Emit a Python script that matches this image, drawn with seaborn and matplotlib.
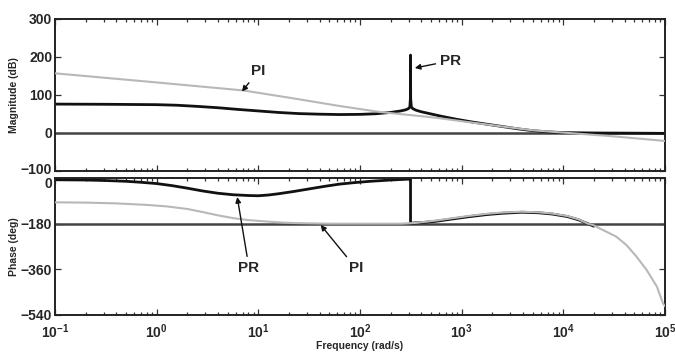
import numpy as np
import pandas as pd
import matplotlib
matplotlib.use("Agg")
import matplotlib.pyplot as plt
import matplotlib.transforms as mtransforms
import seaborn as sns

# ---- data (frequencies as log10(rad/s)) ----
pr_mag_logf = [-1, -0.5, 0, 0.2, 0.4, 0.6, 0.8, 1.0, 1.2, 1.4, 1.6, 1.8, 2.0, 2.15, 2.3, 2.4,
               2.45, 2.475, 2.49, 2.4955, 2.4969, 2.4983, 2.505, 2.52, 2.55, 2.6, 2.7, 2.8,
               2.95, 3.1, 3.25, 3.4, 3.55, 3.7, 3.85, 4.0, 4.3, 4.7, 5.0]
pr_mag_db = [76, 75.5, 74.5, 73, 70, 66.5, 62, 58, 54, 51, 49.5, 48.5, 49, 50.5, 54, 58,
             61, 64, 68, 90, 205, 90, 68, 64, 60, 56, 50, 44,
             36, 29, 23, 17, 11, 6, 3, 1, 0, -0.5, -1]

pi_mag_logf = [-1, 0, 0.85, 1.3, 1.8, 2.0, 2.2, 2.5, 2.75, 3.0, 3.2, 3.4, 3.7, 4.05, 4.5, 5.0]
pi_mag_db = [157, 133, 112, 93, 71, 63, 55, 47, 40, 31, 24, 17, 7, 0, -9, -21]

pr_ph_logf = [-1, -0.7, -0.5, -0.3, -0.15, 0, 0.15, 0.3, 0.45, 0.6, 0.75, 0.9, 1.0, 1.1, 1.2,
              1.35, 1.5, 1.65, 1.8, 1.95, 2.1, 2.3, 2.4969,
              2.4969, 2.6, 2.74, 2.9, 3.06, 3.25, 3.4, 3.59, 3.75, 3.89, 4.04, 4.15, 4.24, 4.3]
pr_ph_deg = [-7, -8, -10, -13, -17, -22, -30, -40, -51, -60, -66, -69, -70, -67, -62,
             -53, -43, -33, -24, -18, -13, -8, -4,
             -178, -176, -171, -162, -153, -144, -139, -135, -137, -142, -152, -165, -180, -190]

pi_ph_logf = [-1, -0.7, -0.4, -0.1, 0.1, 0.3, 0.45, 0.6, 0.75, 0.9, 1.1, 1.25, 1.4, 1.7, 2.4,
              2.55, 2.74, 2.9, 3.06, 3.25, 3.4, 3.59, 3.75, 3.89, 4.04, 4.15, 4.24, 4.29, 4.42,
              4.52, 4.62, 4.72, 4.82, 4.92, 4.98, 5.0]
pi_ph_deg = [-96, -97, -100, -106, -112, -122, -134, -147, -158, -166, -172, -176, -178, -180, -180,
             -177, -168, -159, -150, -141, -136, -133, -135, -140, -150, -163, -180, -185, -211,
             -231, -264, -310, -363, -428, -494, -505]

mag_ref = 0
ph_ref = -180
mag_ticks = [-100, 0, 100, 200, 300]
ph_ticks = [-540, -360, -180, 0]
x_ticks = [1e-1, 1e0, 1e1, 1e2, 1e3, 1e4, 1e5]
x_tick_labels = [r"$\mathbf{10^{-1}}$", r"$\mathbf{10^{0}}$", r"$\mathbf{10^{1}}$",
                 r"$\mathbf{10^{2}}$", r"$\mathbf{10^{3}}$", r"$\mathbf{10^{4}}$",
                 r"$\mathbf{10^{5}}$"]

sns.set_style("ticks")
FONT = "Liberation Sans"
plt.rcParams["font.family"] = [FONT, "DejaVu Sans"]
plt.rcParams["font.weight"] = "bold"
plt.rcParams["mathtext.fontset"] = "custom"
plt.rcParams["mathtext.bf"] = FONT + ":bold"
plt.rcParams["mathtext.rm"] = FONT + ":bold"
plt.rcParams["xtick.direction"] = "in"
plt.rcParams["ytick.direction"] = "in"


def frame(logf, vals):
    return pd.DataFrame({"f": np.power(10.0, logf), "v": vals})


df_pr_mag = frame(pr_mag_logf, pr_mag_db)
df_pi_mag = frame(pi_mag_logf, pi_mag_db)
df_pr_ph = frame(pr_ph_logf, pr_ph_deg)
df_pi_ph = frame(pi_ph_logf, pi_ph_deg)

fig = plt.figure(figsize=(6.75, 3.56), dpi=100)
ax1 = fig.add_axes([0.0815, 0.5197, 0.9037, 0.427])
ax2 = fig.add_axes([0.0815, 0.1152, 0.9037, 0.3848])

black = "#111111"
gray = "#b8b8b8"

for ax, dpr, dpi_, ref in [(ax1, df_pr_mag, df_pi_mag, mag_ref), (ax2, df_pr_ph, df_pi_ph, ph_ref)]:
    ax.set_xscale("log")
    ax.axhline(ref, color="#444444", lw=1.8, zorder=1)
    sns.lineplot(data=dpr, x="f", y="v", ax=ax, color=black, lw=2.0,
                 estimator=None, sort=False, zorder=2)
    sns.lineplot(data=dpi_, x="f", y="v", ax=ax, color=gray, lw=1.5,
                 estimator=None, sort=False, zorder=3)
    ax.set_xlim(1e-1, 1e5)
    ax.tick_params(which="both", top=True, right=True, direction="in", labelsize=10,
                   width=0.9, color="#333333", pad=2)
    ax.tick_params(which="major", length=4)
    ax.tick_params(which="minor", length=2.5)
    for s in ax.spines.values():
        s.set_linewidth(1.4)
        s.set_color("#222222")
    ax.set_xticks(x_ticks)

ax1.set_ylim(-100, 300)
ax1.set_yticks(mag_ticks)
ax1.set_xticklabels([])
ax1.set_xlabel("")
ax1.set_ylabel("Magnitude (dB)", fontsize=7.5, fontweight="bold", labelpad=1)

ax2.set_ylim(-540, 0)
ax2.set_yticks(ph_ticks)
ax2.set_xticklabels(x_tick_labels)
ax2.tick_params(axis="x", which="major", pad=5)
ax2.set_xlabel("Frequency (rad/s)", fontsize=7.5, fontweight="bold", labelpad=0)
ax2.set_ylabel("Phase (deg)", fontsize=7.5, fontweight="bold", labelpad=1)
for lbl in ax1.get_yticklabels() + ax2.get_yticklabels():
    lbl.set_fontweight("bold")

# the top "0" of the phase axis sits slightly below the axis edge, as in the reference
zero_lbl = ax2.get_yticklabels()[-1]
zero_lbl.set_transform(zero_lbl.get_transform() +
                       mtransforms.ScaledTranslation(0, -0.05, fig.dpi_scale_trans))
top_lbl = ax1.get_yticklabels()[0]
top_lbl.set_transform(top_lbl.get_transform() +
                      mtransforms.ScaledTranslation(0, 0.02, fig.dpi_scale_trans))

aprops = dict(arrowstyle="-|>", color=black, lw=1.0, mutation_scale=8, shrinkA=1, shrinkB=0)
tkw = dict(fontsize=11, fontweight="bold", ha="center", va="center")
ax1.annotate("PI", xy=(6.9, 109), xytext=(9.9, 162), arrowprops=aprops, **tkw)
ax1.annotate("PR", xy=(346, 171), xytext=(780, 190), arrowprops=aprops, **tkw)
ax2.annotate("PR", xy=(6.2, -75), xytext=(8.1, -355), arrowprops=aprops, **tkw)
ax2.annotate("PI", xy=(41, -185), xytext=(91, -355), arrowprops=aprops, **tkw)

fig.savefig("out.png", dpi=100)
